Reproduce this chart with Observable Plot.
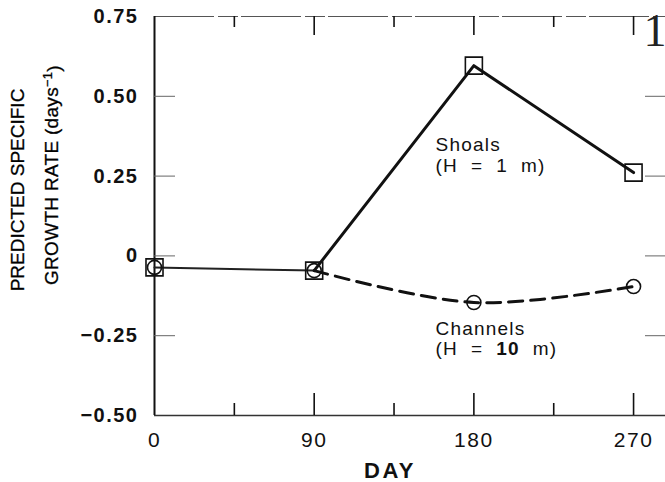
<!DOCTYPE html>
<html><head><meta charset="utf-8">
<script src="https://cdn.jsdelivr.net/npm/d3@7"></script>
<script src="https://cdn.jsdelivr.net/npm/@observablehq/plot@0.6"></script>
<style>body{margin:0;background:#fff}svg{background:#fff}</style>
</head><body><div id="chart"></div>
<script>
// ---- data ----
const days = [0, 90, 180, 270];
const shoals = [-0.036, -0.046, 0.596, 0.261];
const channels = [-0.036, -0.046, -0.146, -0.096];
const yTicks = [-0.5, -0.25, 0, 0.25, 0.5, 0.75];
const xTicks = [0, 90, 180, 270];
const xMajorInner = [90, 180, 270];
const xMinorTicks = [45, 135, 225];
const sideTicks = [-0.25, 0, 0.25, 0.5];
const shoalLabel = [{day: 158.4, value: 0.262, text: "Shoals\n(H\u00a0 =\u00a0 1\u00a0 m)"}];
const channelLabel = [{day: 158.4, value: -0.312, text: "Channels\n(H\u00a0 =\u00a0 10\u00a0 m)"}];

const rows = days.map((d, i) => ({day: d, shoals: shoals[i], channels: channels[i]}));
const W = 665, H = 482, ML = 154, MR = 0, MT = 16, MB = 67;
const PH = H - MT - MB, PW = W - ML - MR;
const sans = "Liberation Sans, Arial, sans-serif";

const fmt = d => d === 0 ? "0" : d3.format(".2f")(d);

const chart = Plot.plot({
  width: W, height: H,
  marginLeft: ML, marginRight: MR, marginTop: MT, marginBottom: MB,
  style: {fontFamily: sans, color: "#111", background: "#fff"},
  x: {domain: [0, 288]},
  y: {domain: [-0.5, 0.75]},
  marks: [
    // frame
    Plot.ruleY([-0.5], {stroke: "#333", strokeWidth: 1.5}),
    Plot.ruleY([0.75], {stroke: "#555", strokeWidth: 1.1, strokeDasharray: "60,4,20,3"}),
    Plot.ruleX([0], {stroke: "#111", strokeWidth: 2}),
    // ticks
    Plot.ruleX(xMajorInner, {x: d => d, insetTop: PH - 22, stroke: "#111", strokeWidth: 1.6}),
    Plot.ruleX(xMinorTicks, {x: d => d, insetTop: PH - 12, stroke: "#111", strokeWidth: 1.6}),
    Plot.ruleX(xMajorInner, {x: d => d, insetBottom: PH - 19, stroke: "#111", strokeWidth: 1.6}),
    Plot.ruleX(xMinorTicks, {x: d => d, insetBottom: PH - 11, stroke: "#111", strokeWidth: 1.6}),
    Plot.ruleY(sideTicks, {y: d => d, insetRight: PW - 21, stroke: "#666", strokeWidth: 1}),
    Plot.ruleY(sideTicks, {y: d => d, insetLeft: PW - 20, stroke: "#666", strokeWidth: 1}),
    // axes labels
    Plot.axisY({ticks: yTicks, tickSize: 0, tickPadding: 16, tickFormat: fmt, label: null,
      fontSize: 20, fontWeight: "bold", fontFamily: sans}),
    Plot.axisX({ticks: xTicks, tickSize: 0, tickPadding: 17, label: null,
      fontSize: 21, fontFamily: sans}),
    // data lines
    Plot.line(rows.slice(0, 2), {x: "day", y: "shoals", stroke: "#222", strokeWidth: 2}),
    Plot.line(rows.slice(1), {x: "day", y: "shoals", stroke: "#111", strokeWidth: 3}),
    Plot.line(rows.slice(1), {x: "day", y: "channels", stroke: "#111", strokeWidth: 3,
      strokeDasharray: "14,8", curve: "catmull-rom"}),
    Plot.dot(rows, {x: "day", y: "channels", r: 7, stroke: "#111", strokeWidth: 1.6, fill: "none"}),
    Plot.dot(rows, {x: "day", y: "shoals", symbol: "square", r: 9.6, stroke: "#111", strokeWidth: 1.6, fill: "none"}),
    // annotations
    Plot.text(shoalLabel, {x: "day", y: "value", text: "text", textAnchor: "start", lineAnchor: "bottom",
      lineHeight: 1.1, fontSize: 19, fontFamily: sans, fill: "#111"}),
    Plot.text(channelLabel, {x: "day", y: "value", text: "text", textAnchor: "start", lineAnchor: "bottom",
      lineHeight: 1.1, fontSize: 19, fontFamily: sans, fill: "#111"}),
    // axis titles
    Plot.text(["PREDICTED SPECIFIC"], {frameAnchor: "left", text: d => d, rotate: -90, dx: 23 - ML, dy: -26,
      textAnchor: "middle", lineAnchor: "bottom", fontSize: 19, fontFamily: sans, fill: "#000"}),
    Plot.text(["GROWTH RATE (days-1)"], {frameAnchor: "left", text: d => d, rotate: -90, dx: 57 - ML, dy: -41,
      textAnchor: "middle", lineAnchor: "bottom", fontSize: 19, fontFamily: sans, fill: "#000"}),
    Plot.text(["DAY"], {frameAnchor: "bottom", text: d => d, dx: -20, dy: 62, textAnchor: "middle",
      lineAnchor: "bottom", fontSize: 22, fontWeight: "bold", fontFamily: sans, fill: "#111"}),
    Plot.text(["1"], {frameAnchor: "top-right", text: d => d, dx: 1, dy: 29, textAnchor: "end",
      lineAnchor: "bottom", fontSize: 46, fontFamily: "Liberation Serif, serif", fill: "#222"})
  ]
});

const svg = d3.select(chart);
svg.selectAll('[aria-label="y-axis tick label"] text').style("letter-spacing", "1.5px");
svg.selectAll('[aria-label="x-axis tick label"] text').style("letter-spacing", "1.5px");
svg.selectAll("text").each(function() {
  const t = d3.select(this);
  const s = this.textContent;
  if (s === "DAY") t.style("letter-spacing", "2.5px");
  if (s.startsWith("Shoals") || s.startsWith("Channels")) t.style("letter-spacing", "1.2px");
  if (s === "PREDICTED SPECIFIC") t.style("stroke", "#000").style("stroke-width", "0.3px");
  if (s === "GROWTH RATE (days-1)") {
    t.style("letter-spacing", "0.3px").style("stroke", "#000").style("stroke-width", "0.3px").text(null);
    t.append("tspan").text("GROWTH RATE (days");
    t.append("tspan").attr("dy", "-0.45em").attr("font-size", "13px").text("\u22121");
    t.append("tspan").attr("dy", "0.45em").text(")");
  }
});
// bold "10" in the Channels label's second line
svg.selectAll("tspan").each(function() {
  if (this.textContent.includes("10") && this.textContent.startsWith("(H")) {
    const t = d3.select(this);
    t.text(null);
    t.append("tspan").text("(H\u00a0 =\u00a0 ");
    t.append("tspan").attr("font-weight", "bold").text("10");
    t.append("tspan").text("\u00a0 m)");
  }
});
document.getElementById("chart").append(chart);
</script>
</body></html>
